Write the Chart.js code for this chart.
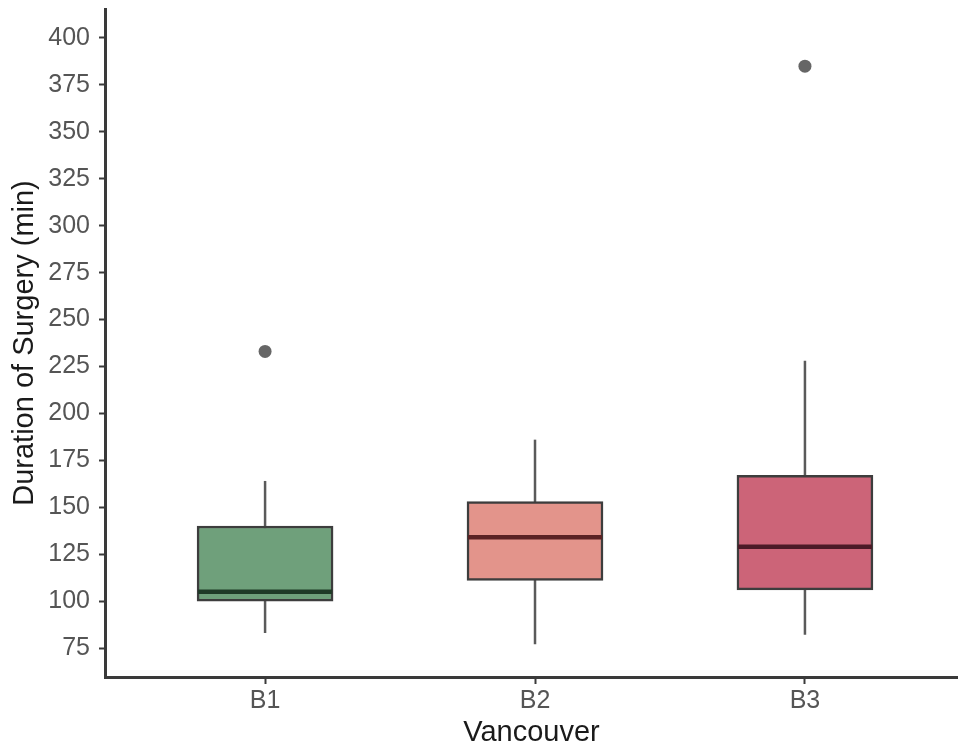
<!DOCTYPE html>
<html>
<head>
<meta charset="utf-8">
<script src="https://cdn.jsdelivr.net/npm/chart.js@4.4.0/dist/chart.umd.min.js"></script>
<style>
  html, body { margin: 0; padding: 0; background: #fff; overflow: hidden; }
  #wrap { width: 958px; height: 750px; }
</style>
</head>
<body>
<div id="wrap"><canvas id="chart"></canvas></div>
<script>
// --- data ---
const categories = ['B1', 'B2', 'B3'];
const whiskerLow = [83, 77, 82];
const q1 = [100, 111, 106];
const median = [105, 134, 129];
const q3 = [140, 153, 167];
const whiskerHigh = [164, 186, 228];
const outliers = [[233], [], [385]];
const yTicks = [75, 100, 125, 150, 175, 200, 225, 250, 275, 300, 325, 350, 375, 400];

const fills = ['#6fa07b', '#e3948b', '#cc6478'];
const medianColors = ['#1f3a27', '#5b2224', '#4c1a27'];

const boxData = categories.map((c, i) => ({ x: i + 1, y: [q1[i], q3[i]] }));
const outlierData = [];
outliers.forEach((list, i) => list.forEach(v => outlierData.push({ x: i + 1, y: v })));

// whiskers behind the boxes, medians on top
const boxPlotLines = {
    id: 'boxPlotLines',
    beforeDatasetsDraw(chart) {
        const { ctx, scales: { x, y } } = chart;
        ctx.save();
        ctx.strokeStyle = '#5a5a5a';
        ctx.lineWidth = 2.5;
        categories.forEach((c, i) => {
            const px = x.getPixelForValue(i + 1);
            ctx.beginPath();
            ctx.moveTo(px, y.getPixelForValue(whiskerLow[i]));
            ctx.lineTo(px, y.getPixelForValue(whiskerHigh[i]));
            ctx.stroke();
        });
        ctx.restore();
    },
    afterDatasetsDraw(chart) {
        const { ctx, scales: { x, y } } = chart;
        const half = 67;
        ctx.save();
        ctx.lineWidth = 4.5;
        categories.forEach((c, i) => {
            const px = x.getPixelForValue(i + 1);
            const py = y.getPixelForValue(median[i]);
            ctx.strokeStyle = medianColors[i];
            ctx.beginPath();
            ctx.moveTo(px - half, py);
            ctx.lineTo(px + half, py);
            ctx.stroke();
        });
        ctx.restore();
    }
};

const tickFont = { family: '"Liberation Sans", Arial, sans-serif', size: 25 };
const titleFont = { family: '"Liberation Sans", Arial, sans-serif', size: 29 };

new Chart(document.getElementById('chart'), {
    type: 'bar',
    data: {
        datasets: [
            {
                data: boxData,
                backgroundColor: fills,
                borderColor: '#3d3d3d',
                borderWidth: 2.5,
                borderSkipped: false,
                barThickness: 136,
                order: 2
            },
            {
                type: 'scatter',
                data: outlierData,
                pointRadius: 6.5,
                pointBackgroundColor: '#666666',
                pointBorderWidth: 0,
                order: 1
            }
        ]
    },
    options: {
        responsive: true,
        maintainAspectRatio: false,
        animation: false,
        layout: { autoPadding: false, padding: { top: 9, right: 0, bottom: 0, left: 0 } },
        plugins: { legend: { display: false }, tooltip: { enabled: false } },
        scales: {
            x: {
                type: 'linear',
                offset: false,
                min: 0.407,
                max: 3.567,
                afterBuildTicks: axis => { axis.ticks = categories.map((c, i) => ({ value: i + 1 })); },
                afterFit: axis => { axis.height = 73; axis.paddingLeft = 0; axis.paddingRight = 0; },
                ticks: {
                    callback: v => categories[v - 1],
                    color: '#555555',
                    font: tickFont,
                    padding: 2,
                    maxRotation: 0
                },
                grid: { offset: false, drawOnChartArea: false, tickLength: 7, tickColor: '#3a3a3a', tickWidth: 2 },
                border: { color: '#3a3a3a', width: 3 },
                title: { display: true, text: 'Vancouver', color: '#1a1a1a', font: titleFont, padding: { top: 0, bottom: 0 } }
            },
            y: {
                min: 59.55,
                max: 415.45,
                afterBuildTicks: axis => { axis.ticks = yTicks.map(v => ({ value: v })); },
                afterFit: axis => { axis.width = 105; axis.paddingTop = 0; axis.paddingBottom = 0; },
                ticks: { color: '#555555', font: tickFont, padding: 9 },
                grid: { drawOnChartArea: false, tickLength: 6, tickColor: '#3a3a3a', tickWidth: 2 },
                border: { color: '#3a3a3a', width: 3 },
                title: { display: true, text: 'Duration of Surgery (min)', color: '#1a1a1a', font: titleFont, padding: { top: 8, bottom: 0 } }
            }
        }
    },
    plugins: [boxPlotLines]
});
</script>
</body>
</html>
